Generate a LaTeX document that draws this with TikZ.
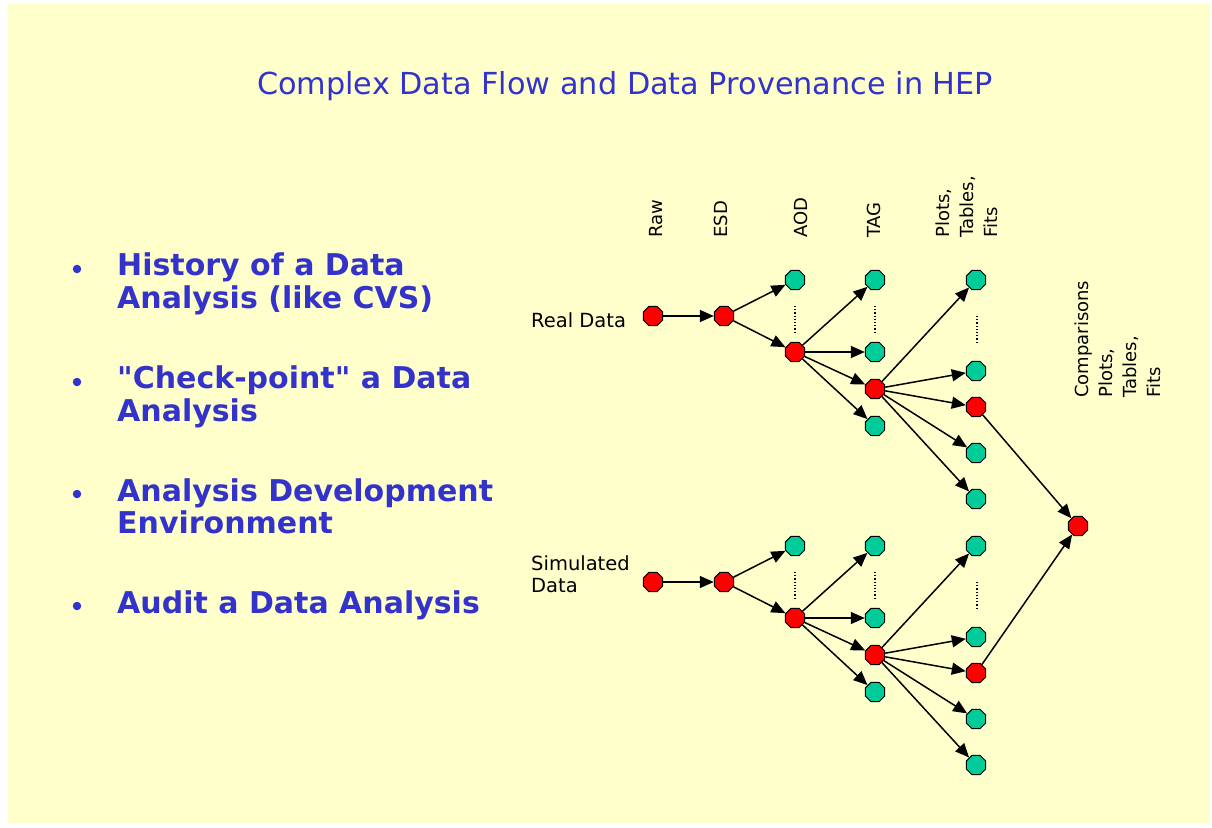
\documentclass[tikz,border=0pt]{standalone}
\usepackage{fontspec}
\setmainfont{DejaVu Sans}
\usetikzlibrary{shapes.geometric,arrows.meta}
\definecolor{bgyellow}{HTML}{FFFFCC}
\definecolor{txtblue}{HTML}{3333CC}
\definecolor{nodeteal}{HTML}{00CC99}
\definecolor{nodered}{HTML}{FF0000}
\newcommand\straightquote{\XeTeXglyph\XeTeXcharglyph"22\relax}
\begin{document}
\begin{tikzpicture}[x=1pt,y=-1pt,
  dn/.style={regular polygon, regular polygon sides=8, minimum size=21pt, inner sep=0pt, draw=black, line width=1pt},
  rd/.style={dn, fill=nodered},
  gn/.style={dn, fill=nodeteal},
  arr/.style={-{Triangle[length=14pt,width=12pt]}, line width=1.5pt},
  dotmark/.style={dotted, line width=1.2pt},
  coltxt/.style={font=\fontsize{18}{24}\selectfont, inner sep=0pt, align=left},
  rowtxt/.style={font=\fontsize{19.5}{22}\selectfont, inner sep=0pt, align=left},
  bullettxt/.style={font=\fontsize{30}{32.5}\selectfont\bfseries, text=txtblue, inner sep=0pt, align=left, anchor=north west},
  bulletdot/.style={circle, fill=txtblue, inner sep=0pt, minimum size=8.5pt}
]
\useasboundingbox (0,0) rectangle (1212,827);
\fill[white] (0,0) rectangle (1212,827);
\fill[bgyellow] (8,4) rectangle (1210,823);

% title
\node[anchor=base, text=txtblue, font=\fontsize{30.3}{34}\selectfont, inner sep=0pt] (title) at (625,94) {Complex Data Flow and Data Provenance in HEP};

% bullets
\node[bulletdot] (b1) at (77,269) {};
\node[bullettxt] (t1) at (117,253) {History of a Data\\Analysis (like CVS)};
\node[bulletdot] (b2) at (77,382) {};
\node[bullettxt] (t2) at (117,366) {\straightquote Check-point\straightquote{} a Data\\Analysis};
\node[bulletdot] (b3) at (77,494) {};
\node[bullettxt] (t3) at (117,478) {Analysis Development\\Environment};
\node[bulletdot] (b4) at (77,606) {};
\node[bullettxt] (t4) at (117,590) {Audit a Data Analysis};

% column labels
\node[coltxt, rotate=90, anchor=base west] (lraw) at (662,238) {Raw};
\node[coltxt, rotate=90, anchor=base west] (lesd) at (727,238) {ESD};
\node[coltxt, rotate=90, anchor=base west] (laod) at (807,238) {AOD};
\node[coltxt, rotate=90, anchor=base west] (ltag) at (880,238) {TAG};
\node[coltxt, rotate=90, anchor=north west] (lplot) at (936,238) {Plots,\\Tables,\\Fits};
\node[coltxt, rotate=90, anchor=north west] (lcomp) at (1075,398) {Comparisons\\Plots,\\Tables,\\Fits};

% row labels
\node[rowtxt, anchor=base west] (lreal) at (531,327) {Real Data};
\node[rowtxt, anchor=north west] (lsim) at (531,555) {Simulated\\Data};

% final node
\node[rd] (F) at (1078,526) {};

\foreach \p/\dy in {r/0, s/266}{
  \node[rd] (\p raw) at (653,316+\dy) {};
  \node[rd] (\p esd) at (724,316+\dy) {};
  \node[gn] (\p a1) at (795,280+\dy) {};
  \node[rd] (\p a2) at (795,352+\dy) {};
  \node[gn] (\p t1) at (875,280+\dy) {};
  \node[gn] (\p t2) at (875,352+\dy) {};
  \node[rd] (\p t3) at (875,389+\dy) {};
  \node[gn] (\p t4) at (875,426+\dy) {};
  \node[gn] (\p p1) at (976,280+\dy) {};
  \node[gn] (\p p2) at (976,371+\dy) {};
  \node[rd] (\p p3) at (976,407+\dy) {};
  \node[gn] (\p p4) at (976,453+\dy) {};
  \node[gn] (\p p5) at (976,499+\dy) {};
  \draw[dotmark] (795,306+\dy) -- (795,332+\dy);
  \draw[dotmark] (875,306+\dy) -- (875,332+\dy);
  \draw[dotmark] (977,316+\dy) -- (977,342+\dy);
  \draw[arr] (\p raw) -- (\p esd);
  \draw[arr] (\p esd) -- (\p a1);
  \draw[arr] (\p esd) -- (\p a2);
  \draw[arr] (\p a2) -- (\p t1);
  \draw[arr] (\p a2) -- (\p t2);
  \draw[arr] (\p a2) -- (\p t3);
  \draw[arr] (\p a2) -- (\p t4);
  \draw[arr] (\p t3) -- (\p p1);
  \draw[arr] (\p t3) -- (\p p2);
  \draw[arr] (\p t3) -- (\p p3);
  \draw[arr] (\p t3) -- (\p p4);
  \draw[arr] (\p t3) -- (\p p5);
  \draw[arr] (\p p3) -- (F);
}
\end{tikzpicture}
\end{document}
